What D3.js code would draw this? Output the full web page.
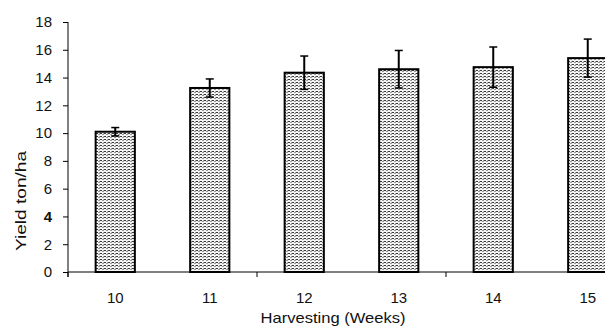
<!DOCTYPE html>
<html>
<head>
<meta charset="utf-8">
<script src="https://cdn.jsdelivr.net/npm/d3@7"></script>
<style>
  body { margin: 0; background: #fff; }
  svg { display: block; font-family: "Liberation Sans", Arial, sans-serif; }
</style>
</head>
<body>
<div class="chart"></div>
<script>
// datos
var weeks = ["10", "11", "12", "13", "14", "15"];
var yieldMean = [10.1, 13.25, 14.35, 14.6, 14.75, 15.4];
var yieldErr = [0.3, 0.65, 1.2, 1.35, 1.45, 1.37];
var yTicks = [0, 2, 4, 6, 8, 10, 12, 14, 16, 18];

var margin = {top: 22, right: 0, bottom: 55, left: 68};
var W = 605, H = 327;
var w = 567;                 // la gráfica sigue más allá del borde derecho
var h = H - margin.top - margin.bottom;

var svg = d3.select(".chart").append("svg")
    .attr("width", W)
    .attr("height", H);

// textura de las barras
var defs = svg.append("defs");
var pat = defs.append("pattern")
    .attr("id", "tex")
    .attr("patternUnits", "userSpaceOnUse")
    .attr("width", 4).attr("height", 3);
pat.append("rect").attr("width", 4).attr("height", 3).attr("fill", "#f6f6f6");
pat.append("rect").attr("x", 0).attr("y", 0).attr("width", 2).attr("height", 1).attr("fill", "#3a3a3a");
pat.append("rect").attr("x", 2).attr("y", 1).attr("width", 2).attr("height", 1).attr("fill", "#999");
pat.append("rect").attr("x", 3).attr("y", 0).attr("width", 1).attr("height", 1).attr("fill", "#aaa");

var g = svg.append("g")
    .attr("transform", "translate(" + margin.left + "," + margin.top + ")");

var x = d3.scaleBand()
    .domain(weeks)
    .range([0, w])
    .paddingInner(0.585)
    .paddingOuter(0.2925);

var y = d3.scaleLinear()
    .domain([0, 18])
    .range([h, 0]);

// eje y
var yAxis = d3.axisLeft(y).tickValues(yTicks).tickSize(5).tickSizeOuter(0);
var gy = g.append("g").call(yAxis);
gy.select(".domain").attr("d", "M0," + y(18) + "V" + (h + 5)).attr("stroke", "#000");
gy.selectAll(".tick line").attr("stroke", "#000");
gy.selectAll(".tick text")
    .attr("x", -16)
    .style("font-size", "15px")
    .style("font-weight", function(d) { return d === 4 ? "bold" : "normal"; })
    .attr("fill", "#111");

// eje x: marcas cada dos categorías
var step = x.step();
g.append("line")
    .attr("x1", 0).attr("x2", w)
    .attr("y1", h).attr("y2", h)
    .attr("stroke", "#000");
g.selectAll(".xtick")
    .data([0, 2, 4, 6])
    .enter().append("line")
    .attr("class", "xtick")
    .attr("x1", function(d) { return d * step; })
    .attr("x2", function(d) { return d * step; })
    .attr("y1", h).attr("y2", h + 5)
    .attr("stroke", "#000");
g.selectAll(".xlab")
    .data(weeks)
    .enter().append("text")
    .attr("class", "xlab")
    .attr("x", function(d) { return x(d) + x.bandwidth() / 2; })
    .attr("y", h + 31)
    .attr("text-anchor", "middle")
    .style("font-size", "15px")
    .attr("fill", "#111")
    .text(function(d) { return d; });

// barras
g.selectAll(".bar")
    .data(weeks)
    .enter().append("rect")
    .attr("class", "bar")
    .attr("x", function(d) { return x(d); })
    .attr("y", function(d, i) { return y(yieldMean[i]); })
    .attr("width", x.bandwidth())
    .attr("height", function(d, i) { return h - y(yieldMean[i]); })
    .attr("fill", "url(#tex)")
    .attr("stroke", "#000")
    .attr("stroke-width", 2);

// barras de error
var eb = g.selectAll(".err")
    .data(weeks)
    .enter().append("g")
    .attr("class", "err")
    .attr("transform", function(d) { return "translate(" + (x(d) + x.bandwidth() / 2) + ",0)"; });
eb.append("line")
    .attr("y1", function(d, i) { return y(yieldMean[i] + yieldErr[i]); })
    .attr("y2", function(d, i) { return y(yieldMean[i] - yieldErr[i]); })
    .attr("stroke", "#000").attr("stroke-width", 2);
eb.append("line")
    .attr("x1", -4).attr("x2", 4)
    .attr("y1", function(d, i) { return y(yieldMean[i] + yieldErr[i]); })
    .attr("y2", function(d, i) { return y(yieldMean[i] + yieldErr[i]); })
    .attr("stroke", "#000").attr("stroke-width", 1.5);
eb.append("line")
    .attr("x1", -4).attr("x2", 4)
    .attr("y1", function(d, i) { return y(yieldMean[i] - yieldErr[i]); })
    .attr("y2", function(d, i) { return y(yieldMean[i] - yieldErr[i]); })
    .attr("stroke", "#000").attr("stroke-width", 1.5);

// títulos de los ejes
svg.append("text")
    .attr("x", 333).attr("y", 323)
    .attr("text-anchor", "middle")
    .attr("textLength", 145)
    .attr("lengthAdjust", "spacingAndGlyphs")
    .style("font-size", "15px")
    .attr("fill", "#111")
    .text("Harvesting (Weeks)");

svg.append("text")
    .attr("transform", "translate(26,201) rotate(-90)")
    .attr("text-anchor", "middle")
    .attr("textLength", 100)
    .attr("lengthAdjust", "spacingAndGlyphs")
    .style("font-size", "15px")
    .attr("fill", "#111")
    .text("Yield ton/ha");
</script>
</body>
</html>
